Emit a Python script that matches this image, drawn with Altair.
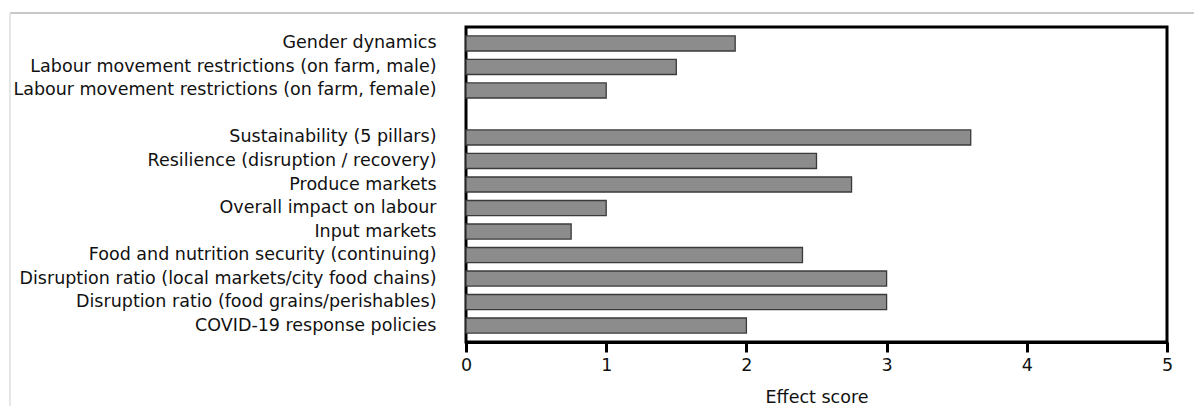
import altair as alt
import pandas as pd

categories = [
    "Gender dynamics",
    "Labour movement restrictions (on farm, male)",
    "Labour movement restrictions (on farm, female)",
    "Sustainability (5 pillars)",
    "Resilience (disruption / recovery)",
    "Produce markets",
    "Overall impact on labour",
    "Input markets",
    "Food and nutrition security (continuing)",
    "Disruption ratio (local markets/city food chains)",
    "Disruption ratio (food grains/perishables)",
    "COVID-19 response policies",
]
values = [1.92, 1.5, 1.0, 3.6, 2.5, 2.75, 1.0, 0.75, 2.4, 3.0, 3.0, 2.0]
x_ticks = [0, 1, 2, 3, 4, 5]
gap_label = " "

domain = categories[:3] + [gap_label] + categories[3:]
df = pd.DataFrame({"category": categories, "score": values})

FONT = "DejaVu Sans"
FS = 17.5

bars = alt.Chart(df).mark_bar(
    fill="#8c8c8c", stroke="#3a3a3a", strokeWidth=1.3
).encode(
    x=alt.X("score:Q",
            scale=alt.Scale(domain=[0, 5], nice=False, zero=True),
            axis=alt.Axis(values=x_ticks, title="Effect score", grid=False,
                          domainColor="black", domainWidth=3,
                          tickColor="black", tickWidth=3, tickSize=10,
                          labelPadding=4, titlePadding=15, labelFlush=False,
                          labelFont=FONT, labelFontSize=FS, labelColor="#111",
                          titleFont=FONT, titleFontSize=FS, titleFontWeight="normal",
                          titleColor="#111", format="d")),
    y=alt.Y("category:N",
            scale=alt.Scale(domain=domain, paddingInner=0.36, paddingOuter=0.38),
            sort=domain,
            axis=alt.Axis(title=None, ticks=False, domain=False, labelPadding=30,
                          labelFont=FONT, labelFontSize=FS, labelColor="#111",
                          labelLimit=0)),
)

top_border = alt.Chart().mark_rule(color="#c8c8c8", strokeWidth=2, clip=False).encode(
    x=alt.value(-456), x2=alt.value(736), y=alt.value(-14)
)
left_border = alt.Chart().mark_rule(color="#e6e6e6", strokeWidth=2, clip=False).encode(
    x=alt.value(-456), y=alt.value(-14), y2=alt.value(390)
)

chart = alt.layer(top_border, left_border, bars).properties(
    width=701, height=315,
    autosize=alt.AutoSizeParams(type="none"),
    padding={"left": 458, "top": 19, "right": 27, "bottom": 64},
).configure(
    background="white"
).configure_view(
    stroke="black", strokeWidth=3
)

chart.save("out.html", embed_options={"renderer": "svg", "actions": False})
